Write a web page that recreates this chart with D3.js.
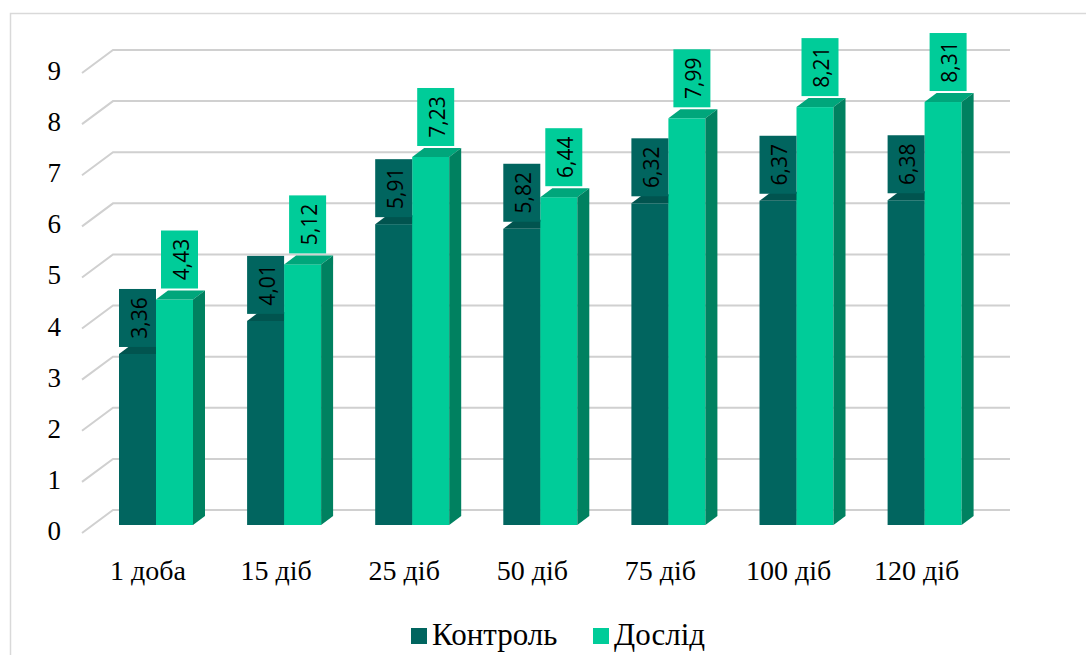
<!DOCTYPE html>
<html>
<head>
<meta charset="utf-8">
<script src="https://cdn.jsdelivr.net/npm/d3@7"></script>
<style>
  html, body { margin: 0; padding: 0; background: #fff; }
</style>
</head>
<body>
<svg id="chart" width="1086" height="655" font-family="Liberation Serif, Tinos, FreeSerif, serif"></svg>
<script>
// Chart data
const categories = ["1 доба", "15 діб", "25 діб", "50 діб", "75 діб", "100 діб", "120 діб"];
const control = [3.36, 4.01, 5.91, 5.82, 6.32, 6.37, 6.38];
const experiment = [4.43, 5.12, 7.23, 6.44, 7.99, 8.21, 8.31];
const seriesNames = ["Контроль", "Дослід"];
const yTicks = [0, 1, 2, 3, 4, 5, 6, 7, 8, 9];

const colors = {
  dark: { front: "#01655f", top: "#01544f", side: "#014f4a" },
  green: { front: "#00cc99", top: "#00a67b", side: "#008160" }
};

const svg = d3.select("#chart");

// outer frame (top and left edges visible)
svg.append("path")
  .attr("d", "M10.5,655 L10.5,13.5 L1086,13.5")
  .attr("fill", "none").attr("stroke", "#d9d9d9").attr("stroke-width", 1.5);

// 3D geometry
const wallDX = 31, wallDY = 23;        // floor depth of the side wall
const barDX = 12, barDY = 9;           // bar depth
const barW = 37;

// scales
const yWall = d3.scaleLinear().domain([0, 9]).range([510, 50]);
const yBar = d3.scaleLinear().domain([0, 9]).range([525, 525 - 9 * 50.9]);
const x = d3.scaleBand().domain(categories).range([92, 92 + 7 * 128.1]).padding(0);
const wallLeft = 113, wallRight = 1010;

// gridlines on back wall + side wall diagonal
yTicks.forEach(t => {
  const y = yWall(t);
  svg.append("path")
    .attr("d", `M${wallLeft - wallDX},${y + wallDY} L${wallLeft},${y} L${wallRight},${y}`)
    .attr("fill", "none").attr("stroke", "#d0d0d0").attr("stroke-width", 2);
});

// y axis labels
yTicks.forEach(t => {
  svg.append("text")
    .attr("x", 61)
    .attr("y", yWall(t) + 21)
    .attr("text-anchor", "end")
    .attr("dominant-baseline", "central")
    .attr("font-size", 27)
    .attr("fill", "#000")
    .text(t);
});

// bars
function drawBar(x0, v, c) {
  const yt = yBar(v), yb = yBar(0);
  svg.append("rect").attr("x", x0).attr("y", yt).attr("width", barW).attr("height", yb - yt)
    .attr("fill", c.front);
  svg.append("path")
    .attr("d", `M${x0},${yt} L${x0 + barDX},${yt - barDY} L${x0 + barW + barDX},${yt - barDY} L${x0 + barW},${yt} Z`)
    .attr("fill", c.top);
  svg.append("path")
    .attr("d", `M${x0 + barW},${yt} L${x0 + barW + barDX},${yt - barDY} L${x0 + barW + barDX},${yb - barDY} L${x0 + barW},${yb} Z`)
    .attr("fill", c.side);
}

function drawLabel(cx, bottom, v, fill) {
  const boxH = 58;
  svg.append("rect").attr("x", cx - barW / 2).attr("y", bottom - boxH)
    .attr("width", barW).attr("height", boxH).attr("fill", fill);
  svg.append("text")
    .attr("transform", `translate(${cx + 1},${bottom - boxH / 2}) rotate(-90)`)
    .attr("text-anchor", "middle")
    .attr("dominant-baseline", "central")
    .attr("font-family", "Open Sans, Noto Sans, sans-serif")
    .attr("font-size", 21)
    .attr("fill", "#000")
    .text(d3.format(".2f")(v).replace(".", ","));
}

categories.forEach((cat, i) => {
  const gx = x(cat) + 27;
  drawBar(gx, control[i], colors.dark);
  drawBar(gx + barW, experiment[i], colors.green);
});
categories.forEach((cat, i) => {
  const gx = x(cat) + 27;
  drawLabel(gx + barW / 2, yBar(control[i]) - 7, control[i], colors.dark.front);
  drawLabel(gx + barW + 5 + barW / 2, yBar(experiment[i]) - 11, experiment[i], colors.green.front);
});

// category labels
categories.forEach(cat => {
  svg.append("text")
    .attr("x", x(cat) + x.bandwidth() / 2 - 8)
    .attr("y", 580)
    .attr("text-anchor", "middle")
    .attr("font-size", 28)
    .attr("fill", "#000")
    .text(cat);
});

// legend
const legendItems = [
  { name: seriesNames[0], color: colors.dark.front, x: 411 },
  { name: seriesNames[1], color: colors.green.front, x: 593 }
];
legendItems.forEach(it => {
  svg.append("rect").attr("x", it.x).attr("y", 628).attr("width", 16).attr("height", 16)
    .attr("fill", it.color);
  svg.append("text").attr("x", it.x + 21).attr("y", 645)
    .attr("font-size", 31)
    .attr("fill", "#000")
    .text(it.name);
});
</script>
</body>
</html>
